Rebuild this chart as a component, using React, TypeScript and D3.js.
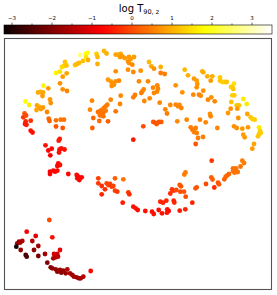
import React from "react";
import * as d3 from "d3";

// embedding coordinates (arbitrary units) and log T90,z value for each burst
const emb1: number[] = [
76,81.5,83.5,82,79,84,92.5,93.5,93.5,100,102.5,111.7,114,116.7,118.3,116,120.7,125,126.7,130,124,125,128.3,124,129.3,136.7,145,147.3,150,156.7,156.7,160.7,
61,60,62.5,58,71,73,75,56,52,62.7,58.7,56,58.7,63,39.5,44.3,34,36.5,39,38.5,46,46.7,21.5,25.3,33,35,37,39,32.5,43,20.5,19.3,22,26.7,21.7,21,22.5,26.7,28.5,
44.7,45.5,52,56.7,60,52,58.7,41.5,47.7,44.3,46.3,55.7,54.7,55.5,57.3,60.5,55,54.3,56,53.3,46,49.3,51,53.3,46,64.3,72.7,74.3,73.3,76,77.7,75.3,
88,86,89.3,88.3,106.7,111.7,104,106.7,108.3,110,111.7,115,107.7,116.7,116,131,129.3,103.3,101.7,100,98.3,96.7,94,101.7,99.3,97.3,96,99.3,111.7,104,95.3,129.3,
135,144,139.7,138.3,137.3,149,153.3,154,153,150,140.3,145.7,155.7,161.3,163,166.3,171.7,174,177.3,175.5,171.7,178.3,180.7,184,190,192.7,193.3,192.7,198.3,199.3,203.3,208.3,206.7,199.3,189.3,195,196.7,204,207.3,210.7,
216,216,218.3,220.7,222.7,230,228.3,229.3,227,228.3,230.3,227.3,232.7,235,239.3,242.7,226.7,224,233.3,234.3,243.3,246.7,248.3,250.7,255,256,255,256.7,254,244,238.3,230,232.7,239.3,240.7,250,248.3,
213.3,206,206.7,201.7,196,182.7,173.3,186.7,188.3,190,192.7,191.7,194,199,191.7,149.3,152.7,151.7,157.3,155,139.3,207.7,238.3,240,236.5,
229,232,231,229,233.7,230.5,225,223.3,221.7,220.3,214,215,210.3,207.3,208.5,202,191.5,192.7,188.3,180,181.7,180.3,181.5,
175.7,177,168,169.7,166.3,172.3,176.3,169.7,170.3,156.3,159,162.3,154.7,163.3,164.7,163,175.7,181.3,148,149.7,158,141.3,133.7,129.3,131.7,118.7,
94.3,111,119.3,94.3,97.7,102.7,104.3,106,107.7,109.3,101,111,113.3,97.7,124.3,125.3,45.3,
22.7,31.7,48.3,18.3,15,13.3,16,12.3,28.3,34.3,16.7,30,21.7,22.7,34.3,41,56,50,53.3,51.7,54,49.3,43.3,46.7,48.3,51.7,53.3,56,57.3,59.3,61.7,63.3,66,68.3,70,72.7,75,76.7,79.3,86.7,
];

const emb2: number[] = [
235,236,237,233,229,230,236,233,226,239,236.5,235.3,235.3,236,233.7,233,232,233,231,233,228.7,227,225.3,220.3,218,219.3,228,223.7,221.3,223,217,216,
228,224,224.5,223,225,226,227,218.3,217,216.7,213.3,206.7,200.7,199,204.3,201.7,197.5,198,197.7,194,190.5,187,188.5,185,184.5,183,181,182.5,180,178,176.5,172.7,174.5,169.3,168.5,166,165.2,159.3,157.5,
171.3,169,169.7,170.3,170.3,163.5,162,144.7,141.3,139.5,134.7,151,149.3,140.5,141.5,140.5,137.5,126.7,125,124,118.3,119.3,118.3,119.3,116,116,115,113.3,111.7,111.7,112.7,110,
189.3,180.3,172,162,190.3,218.7,210.3,208.7,207,205.3,208.7,209.3,204,194.3,186,195,192.7,185.3,183.7,182,180.3,179.3,178,179.3,177,174.7,174.7,173.7,178.7,168.7,169,150.3,
208.7,208.7,200.7,198.7,197,202.3,204.7,201.3,198.3,197,189,191.7,187.3,180.7,176.5,185,185.3,183.7,182,185,204.7,197.7,220.3,214.7,211.3,209.3,206,202.7,218.7,217.7,213.7,213.7,209.3,199.3,195.3,195.3,194.3,190.3,192.7,188.7,
212.7,209.3,208,208,208,206.3,202.7,201,203,194.7,194.7,188,184.7,184.7,191,186,181.3,177,181.3,172,176,172.7,171,170.3,162.7,159.3,156,157,153.7,162.7,161.3,163.7,162,155.3,152.7,146,141.3,
162,176,173.7,167.7,170.3,170.3,168.7,162.7,160.3,158,157,162,152,153,146,168,166,167,168,168,163.7,129.3,129.3,127,123.5,
121.7,121.7,119.5,119,118,117.3,116,114.7,113.3,110.7,107.3,105.7,102.5,112.7,110.5,106,101.7,102.7,87.3,98.3,93.3,115.5,117.5,
105,103.7,100.7,99.3,96.5,100,98.3,89.3,87.5,88.3,87.3,89.3,80,80.7,79,77.3,79.3,80.7,78.3,76,76.7,79,80,83.3,81.7,87.3,
111.7,111.7,110.7,106.7,104,106.7,105,106,103.3,104,100.7,99.3,98.3,95.7,97.7,95.7,70,
58.3,54,52.7,49,48.3,46.7,47.3,43.3,49,44,40,40,35,33.3,34,36,40,36,36,32.7,33.3,31.7,27.3,22.7,21.7,20.7,18.3,20,17.3,19.3,16.7,20.7,16.7,15,13.3,12.7,11.7,11.7,13.3,19,
];

const logT90z: number[] = [
2.7,1.9,1.8,1.6,1.2,1.0,1.3,1.1,1.0,1.1,1.0,0.9,0.9,0.9,0.8,0.8,0.8,0.8,0.8,0.8,0.7,0.7,0.6,0.7,0.6,0.7,1.1,0.9,0.7,1.0,0.5,0.5,
1.2,1.3,1.2,1.4,1.2,1.1,1.1,1.5,1.7,0.9,0.8,0.7,0.7,0.6,1.7,0.8,1.0,1.0,0.9,0.8,0.8,0.7,1.8,1.6,0.9,0.9,0.8,0.8,0.9,0.6,0.1,-0.2,0.0,-0.3,-0.4,-0.5,-0.5,-0.6,-0.6,
0.3,0.2,0.4,0.4,0.4,0.1,0.1,-0.6,-0.7,-0.7,-0.8,-0.5,-0.5,-0.6,-0.6,-0.6,-0.6,-0.7,-0.6,-0.7,-0.8,-0.8,-0.8,-0.7,-0.8,-0.7,-0.7,-0.7,-0.7,-0.7,-0.7,-0.7,
0.6,0.6,0.3,0.2,0.6,0.7,0.8,0.8,0.7,0.7,0.7,0.6,0.7,0.6,0.6,0.5,0.5,0.5,0.5,0.5,0.5,0.4,0.4,0.5,0.4,0.4,0.4,0.4,0.4,0.2,0.3,-0.5,
0.6,0.6,0.6,0.6,0.5,0.6,0.6,0.6,0.6,0.6,0.6,0.6,0.6,0.6,0.5,0.6,0.6,0.6,0.6,0.6,0.7,0.7,1.1,1.0,0.8,0.8,0.8,0.7,1.0,1.0,1.0,1.0,0.8,0.7,0.6,0.6,0.6,0.6,0.7,0.6,
1.3,1.2,1.3,1.3,1.2,1.5,1.3,1.2,1.3,1.3,1.3,1.2,1.2,1.2,1.6,1.6,0.7,0.8,0.8,0.7,0.9,1.2,1.3,1.3,1.6,1.4,1.3,1.3,1.2,0.8,0.8,0.7,0.7,0.8,0.8,0.9,0.8,
0.6,0.7,0.6,0.6,0.6,0.6,0.6,0.5,0.5,0.5,0.5,0.5,0.5,0.5,0.1,0.1,0.1,0.1,0.2,0.1,0.0,-0.2,0.5,0.5,0.4,
0.4,0.4,0.4,0.4,0.4,0.4,0.3,0.3,0.3,0.2,0.1,0.1,-0.3,0.2,0.2,0.0,0.1,0.1,-0.4,0.1,0.0,0.5,0.5,
0.1,0.1,-0.2,-0.2,-0.3,0.0,0.0,-0.4,-0.4,-0.4,-0.4,-0.4,-0.6,-0.6,-0.6,-0.6,-0.5,-0.4,-0.6,-0.6,-0.6,-0.6,-0.6,-0.6,-0.6,-0.5,
-0.1,0.2,0.4,-0.2,-0.3,-0.1,-0.1,-0.1,-0.2,-0.1,-0.3,-0.1,-0.2,-0.4,-0.2,-0.3,0.0,
-0.8,-1.0,-0.6,-1.5,-1.6,-1.8,-1.7,-3.1,-1.5,-1.7,-1.8,-1.9,-2.6,-2.5,-2.1,-1.7,-0.9,-1.2,-1.2,-1.4,-1.3,-1.6,-2.0,-1.9,-1.9,-1.8,-1.8,-1.7,-1.9,-1.8,-1.8,-1.5,-1.6,-1.7,-1.6,-1.7,-1.8,-1.6,-1.5,-0.7,
];

const cbarTicks: number[] = [-3, -2, -1, 0, 1, 2, 3];
const cbarMinor: number[] = [-3, -2.5, -2, -1.5, -1, -0.5, 0, 0.5, 1, 1.5, 2, 2.5, 3];
const cbarDomain: number[] = [-3.2, 3.5];

function hot(t: number): string {
  const c = (v: number) => Math.max(0, Math.min(1, v));
  const r = c(0.0416 + (1 - 0.0416) * (t / 0.365079));
  const g = c((t - 0.365079) / (0.746032 - 0.365079));
  const b = c((t - 0.746032) / (1 - 0.746032));
  return d3.rgb(r * 255, g * 255, b * 255).formatHex();
}

export default function App() {
  const W = 277, H = 295;
  const plot = { x0: 4.5, y0: 38.5, x1: 271.5, y1: 289.5 };
  const n = Math.min(emb1.length, emb2.length, logT90z.length);
  const xScale = d3.scaleLinear().domain([0, 268]).range([4, 272]);
  const yScale = d3.scaleLinear().domain([0, 252]).range([290, 38]);
  const cNorm = d3.scaleLinear().domain(cbarDomain).range([0, 1]).clamp(true);
  const cbX = d3.scaleLinear().domain(cbarDomain).range([4, 272]);
  const cbY0 = 25, cbH = 9;
  const stops = d3.range(0, 1.0001, 0.02);
  const pts = d3.range(n).map((i) => ({ x: emb1[i], y: emb2[i], v: logT90z[i] }));
  const font = "DejaVu Sans, sans-serif";
  return (
    <svg width={W} height={H} style={{ position: "absolute", left: 0, top: 0, background: "#fff" }}>
      <defs>
        <linearGradient id="hotgrad" x1="0" x2="1" y1="0" y2="0">
          {stops.map((s) => (
            <stop key={s} offset={s} stopColor={hot(s)} />
          ))}
        </linearGradient>
      </defs>
      <text x={139} y={12} textAnchor="middle" fontFamily={font} fontSize={10} fill="#000">
        log T
        <tspan fontSize={6.5} dy={1.5}>90, z</tspan>
      </text>
      {cbarTicks.map((t) => (
        <text key={t} x={cbX(t)} y={20} textAnchor="middle" fontFamily={font} fontSize={5.5} fill="#000">
          {t < 0 ? "\u2212" + Math.abs(t) : String(t)}
        </text>
      ))}
      {cbarMinor.map((t) => (
        <line key={t} x1={cbX(t)} x2={cbX(t)} y1={cbY0} y2={cbY0 - (Number.isInteger(t) ? 2.5 : 1.5)} stroke="#000" strokeWidth={0.6} />
      ))}
      <rect x={cbX(cbarDomain[0])} y={cbY0} width={cbX(cbarDomain[1]) - cbX(cbarDomain[0])} height={cbH} fill="url(#hotgrad)" stroke="#000" strokeWidth={0.6} />
      <rect x={plot.x0} y={plot.y0} width={plot.x1 - plot.x0} height={plot.y1 - plot.y0} fill="#fff" stroke="#555" strokeWidth={1.1} />
      <g>
        {pts.map((p, i) => (
          <circle key={i} cx={xScale(p.x)} cy={yScale(p.y)} r={2.4} fill={hot(cNorm(p.v))} />
        ))}
      </g>
    </svg>
  );
}
